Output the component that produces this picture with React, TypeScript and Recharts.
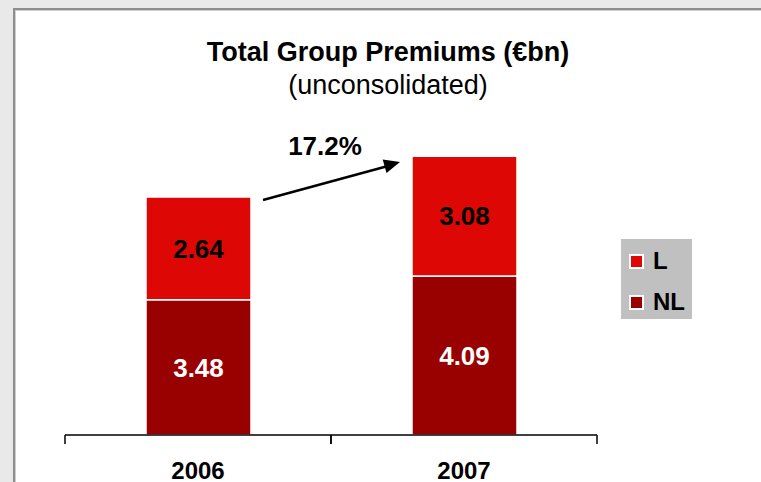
import React from 'react';
import { BarChart, Bar, XAxis, YAxis, LabelList } from 'recharts';

const years = ['2006', '2007'];
const nlValues = [3.48, 4.09];
const lValues = [2.64, 3.08];
const growthLabel = '17.2%';
const titleText = 'Total Group Premiums (€bn)';
const subtitleText = '(unconsolidated)';

const seriesL = { key: 'L', name: 'L', color: '#dd0806' };
const seriesNL = { key: 'NL', name: 'NL', color: '#990000' };
const legendItems = [seriesL, seriesNL];

const data = years.map((y, i) => ({ year: y, NL: nlValues[i], L: lValues[i] }));

const FONT = '"Liberation Sans", Arial, sans-serif';

const YearTick = (props: any) => {
  const { x, y, payload } = props;
  const half = payload && typeof payload.offset === 'number' && payload.offset > 0 ? payload.offset : 133;
  return (
    <g>
      <line x1={x - half} y1={y} x2={x - half} y2={y + 9} stroke="#000" strokeWidth={1.5} />
      <line x1={x + half} y1={y} x2={x + half} y2={y + 9} stroke="#000" strokeWidth={1.5} />
      <text x={x} y={y + 44} textAnchor="middle" fontSize={24} fontWeight={700} fontFamily={FONT} fill="#000">{payload.value}</text>
    </g>
  );
};

export default function App() {
  return (
    <div style={{ position: 'absolute', left: 0, top: 0, width: 761, height: 482, background: '#e9e9e9', overflow: 'hidden', fontFamily: FONT }}>
      <div style={{ position: 'absolute', left: 13, top: 8, width: 761, height: 482, background: '#fff', borderLeft: '2px solid #8e8e8e', borderTop: '2px solid #8e8e8e', boxShadow: 'inset 1px 1px 0 #cfcfcf' }} />
      <div style={{ position: 'absolute', left: 0, top: 0 }}>
        <BarChart width={761} height={482} data={data} margin={{ top: 124, right: 164, bottom: 0, left: 65 }}>
          <YAxis hide domain={[0, 8]} />
          <XAxis dataKey="year" axisLine={{ stroke: '#000', strokeWidth: 1.5 }} tickLine={false} tickSize={0} tickMargin={0} height={47} tick={<YearTick />} interval={0} />
          <Bar dataKey={seriesNL.key} name={seriesNL.name} stackId="a" fill={seriesNL.color} stroke="#fff" strokeWidth={1.5} barSize={105} isAnimationActive={false}>
            <LabelList dataKey={seriesNL.key} position="center" fill="#fff" style={{ fontSize: 26, fontWeight: 700, fontFamily: FONT }} formatter={(v: number) => v.toFixed(2)} />
          </Bar>
          <Bar dataKey={seriesL.key} name={seriesL.name} stackId="a" fill={seriesL.color} stroke="#fff" strokeWidth={1.5} barSize={105} isAnimationActive={false}>
            <LabelList dataKey={seriesL.key} position="center" fill="#000" style={{ fontSize: 26, fontWeight: 700, fontFamily: FONT }} formatter={(v: number) => v.toFixed(2)} />
          </Bar>
        </BarChart>
      </div>
      <svg width={761} height={482} style={{ position: 'absolute', left: 0, top: 0, pointerEvents: 'none' }}>
        <text x={388} y={61} textAnchor="middle" fontSize={27} fontWeight={700} fontFamily={FONT} fill="#000">{titleText}</text>
        <text x={388} y={94} textAnchor="middle" fontSize={27} fontFamily={FONT} fill="#000">{subtitleText}</text>
        <text x={325} y={155} textAnchor="middle" fontSize={26} fontWeight={700} fontFamily={FONT} fill="#000">{growthLabel}</text>
        <line x1={263} y1={200} x2={388} y2={166} stroke="#000" strokeWidth={2.5} />
        <polygon points="400,162 386.5,173.1 382.7,159.5" fill="#000" />
      </svg>
      <div style={{ position: 'absolute', left: 621, top: 239, width: 71, height: 80, background: '#c0c0c0' }}>
        {legendItems.map((it, i) => (
          <div key={it.key} style={{ position: 'absolute', left: 8, top: 14 + i * 41, display: 'flex', alignItems: 'center' }}>
            <div style={{ width: 11, height: 11, background: it.color, border: '2px solid #fff' }} />
            <span style={{ marginLeft: 9, fontSize: 24, fontWeight: 700, lineHeight: '16px', color: '#000' }}>{it.name}</span>
          </div>
        ))}
      </div>
    </div>
  );
}
